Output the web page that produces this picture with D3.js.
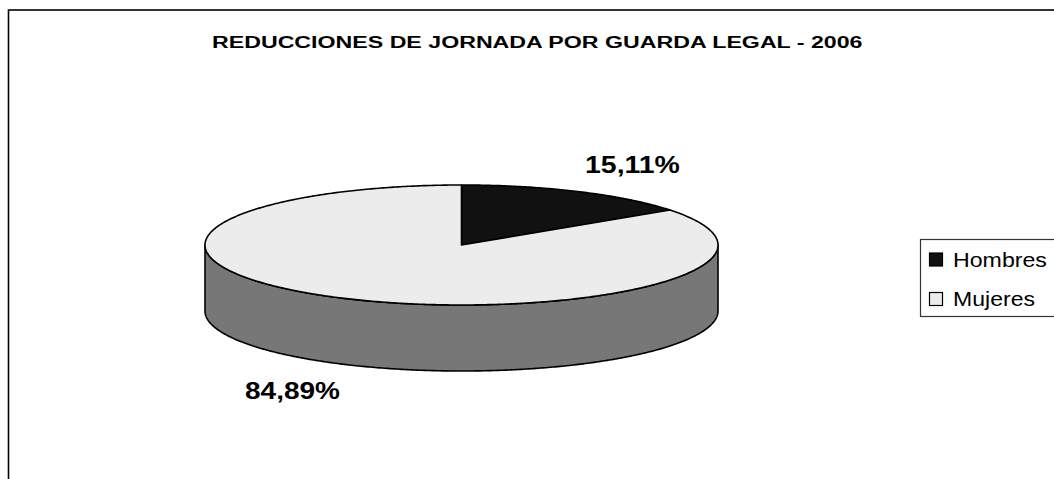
<!DOCTYPE html>
<html>
<head>
<meta charset="utf-8">
<script src="https://cdn.jsdelivr.net/npm/d3@7"></script>
<style>
  html, body { margin: 0; padding: 0; background: #fff; }
  svg { display: block; font-family: "Liberation Sans", Arial, sans-serif; }
</style>
</head>
<body>
<svg id="chart" width="1054" height="479"></svg>
<script>
const categories = ["Hombres", "Mujeres"];
const values = [15.11, 84.89];
const labels = ["15,11%", "84,89%"];
const title = "REDUCCIONES DE JORNADA POR GUARDA LEGAL - 2006";

const topColors = ["#111111", "#ececec"];
const sideColors = ["#0a0a0a", "#777777"];

const svg = d3.select("#chart");
const W = 1054, H = 479;

// text stretched horizontally to a target width (glyphs scaled, like the reference)
function stretchedText(parent, x, y, str, size, weight, targetW) {
  const g = parent.append("g").attr("transform", `translate(${x},${y})`);
  const t = g.append("text").attr("x", 0).attr("y", 0)
    .attr("font-size", size).attr("font-weight", weight).text(str);
  const w = t.node().getComputedTextLength();
  g.attr("transform", `translate(${x},${y}) scale(${targetW / w},1)`);
  return t;
}

// chart border (top & left visible, right/bottom cropped)
svg.append("rect")
  .attr("x", 8.5).attr("y", 10)
  .attr("width", W + 20).attr("height", H + 20)
  .attr("fill", "#fff").attr("stroke", "#000").attr("stroke-width", 1.6);

// title
stretchedText(svg, 212, 48, title, 17, "bold", 651);

// 3D pie geometry
const cx = 461.5, cy = 245, rx = 256.5, ry = 60, depth = 66;
const pt = (a, dy = 0) => [cx + rx * Math.sin(a), cy - ry * Math.cos(a) + dy];

const pie = d3.pie().sort(null).value(d => d).startAngle(0).endAngle(2 * Math.PI);
const arcs = pie(values);

const line = d3.line();
const sample = (a0, a1, dy) => {
  const n = Math.max(2, Math.ceil(Math.abs(a1 - a0) / 0.01));
  return d3.range(n + 1).map(i => pt(a0 + (a1 - a0) * i / n, dy));
};

// side walls (front half: angles PI/2 .. 3PI/2)
arcs.forEach((d, i) => {
  const s = Math.max(d.startAngle, Math.PI / 2);
  const e = Math.min(d.endAngle, 3 * Math.PI / 2);
  if (e <= s) return;
  const topPts = sample(s, e, 0);
  const botPts = sample(e, s, depth);
  svg.append("path")
    .attr("d", line(topPts.concat(botPts)) + "Z")
    .attr("fill", sideColors[i])
    .attr("stroke", "#000").attr("stroke-width", 1.6).attr("stroke-linejoin", "round");
});

// top faces
arcs.forEach((d, i) => {
  const pts = [[cx, cy]].concat(sample(d.startAngle, d.endAngle, 0));
  svg.append("path")
    .attr("d", line(pts) + "Z")
    .attr("fill", topColors[i])
    .attr("stroke", "#000").attr("stroke-width", 1.6).attr("stroke-linejoin", "round");
});

// data labels
const labelPos = [[585, 173], [245, 399]];
labels.forEach((t, i) => {
  stretchedText(svg, labelPos[i][0], labelPos[i][1], t, 23, "bold", 95);
});

// legend
const lg = svg.append("g");
lg.append("rect")
  .attr("x", 920.5).attr("y", 239.5)
  .attr("width", 160).attr("height", 77)
  .attr("fill", "#fff").attr("stroke", "#333").attr("stroke-width", 1.2);
const legendW = [94, 82];
categories.forEach((c, i) => {
  const y = 253 + i * 39.5;
  lg.append("rect")
    .attr("x", 929.5).attr("y", y)
    .attr("width", 13).attr("height", 13)
    .attr("fill", topColors[i]).attr("stroke", "#000").attr("stroke-width", 1.2);
  stretchedText(lg, 953, y + 13.5, c, 20, "normal", legendW[i]);
});
</script>
</body>
</html>
